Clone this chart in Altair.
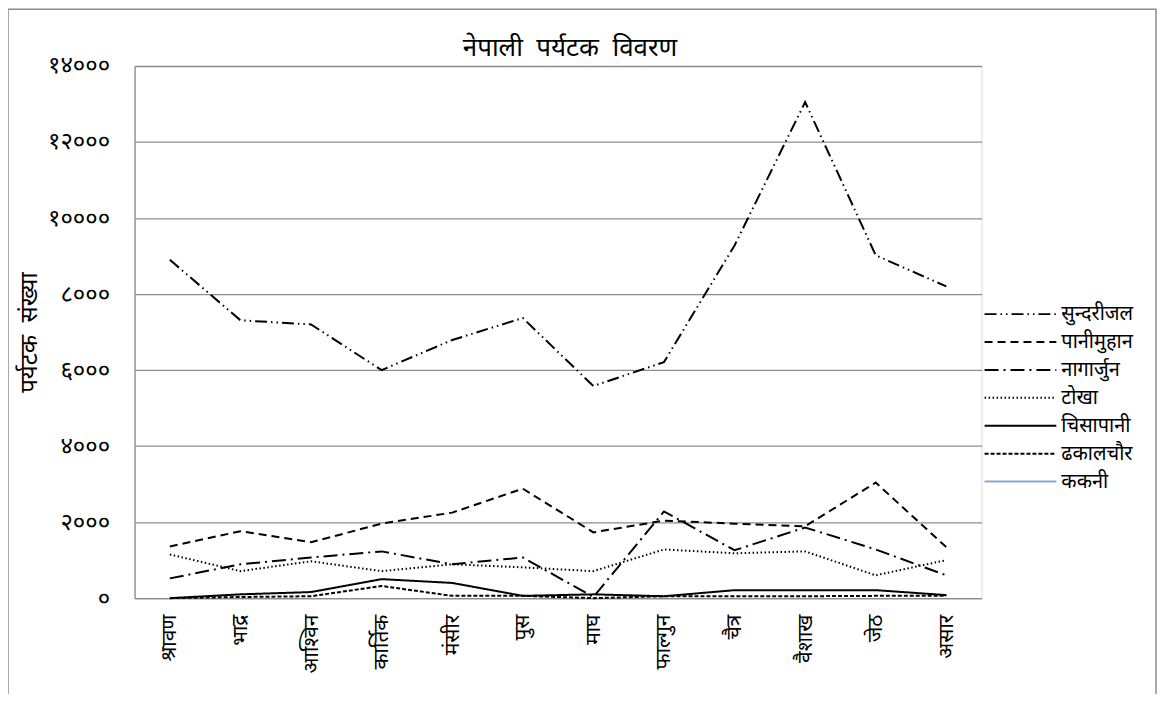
import altair as alt
import pandas as pd

months = ["श्रावण", "भाद्र", "आश्विन", "कार्तिक", "मंसीर", "पुस",
          "माघ", "फाल्गुन", "चैत्र", "वैशाख", "जेठ", "असार"]

series_names = ["सुन्दरीजल", "पानीमुहान", "नागार्जुन", "टोखा", "चिसापानी", "ढकालचौर", "ककनी"]

sundarijal = [8900, 7310, 7200, 6000, 6790, 7370, 5580, 6210, 9280, 13050, 9020, 8200]
panimuhan = [1360, 1760, 1470, 1960, 2250, 2880, 1730, 2040, 1960, 1890, 3040, 1340]
nagarjun = [520, 890, 1070, 1230, 890, 1070, 30, 2280, 1260, 1860, 1280, 600]
tokha = [1150, 710, 970, 710, 890, 810, 710, 1280, 1180, 1230, 600, 1000]
chisapani = [0, 100, 160, 500, 400, 60, 100, 50, 210, 210, 210, 80]
dhakalchaur = [0, 30, 50, 320, 60, 60, 0, 50, 50, 50, 60, 60]
kakani = [None] * 12

y_tick_values = [0, 2000, 4000, 6000, 8000, 10000, 12000, 14000]
y_tick_labels = ["०", "२०००", "४०००", "६०००", "८०००", "१००००", "१२०००", "१४०००"]

title_text = "नेपाली\u00a0\u00a0पर्यटक\u00a0\u00a0विवरण"
y_title = "पर्यटक\u00a0\u00a0संख्या"

all_series = [sundarijal, panimuhan, nagarjun, tokha, chisapani, dhakalchaur, kakani]
rows = []
for name, vals in zip(series_names, all_series):
    for m, v in zip(months, vals):
        rows.append({"month": m, "series": name, "value": v})
df = pd.DataFrame(rows)

dash_range = [[12, 4, 1.5, 4, 1.5, 4], [8, 5], [14, 5, 2, 5], [1.5, 2.5], [1, 0], [4, 2], [1, 0]]
color_range = ["#000000"] * 6 + ["#8EA9D0"]
width_range = [2, 2, 2, 2, 2.2, 2.4, 4.5]

label_expr = ""
for v, l in zip(y_tick_values, y_tick_labels):
    label_expr += f"datum.value == {v} ? '{l}' : "
label_expr += "datum.label"

FONT = "Noto Sans"

legend = alt.Legend(
    title=None, orient="none", legendX=897, legendY=239,
    symbolType="M-6,0H2", symbolSize=324,
    symbolStrokeWidth=alt.ExprRef(expr=f"datum.value == '{series_names[-1]}' ? 4.5 : 2.2"),
    labelFontSize=20, labelFont=FONT, labelColor="#000000",
    rowPadding=8, labelOffset=13, symbolOffset=0,
)

lines = alt.Chart(df).mark_line(clip=False).encode(
    x=alt.X("month:N", sort=months, title=None,
            scale=alt.Scale(type="point", padding=0.5),
            axis=alt.Axis(labelAngle=-90, labelFontSize=21, labelFont=FONT,
                          labelColor="#000000", labelPadding=16, ticks=False,
                          domainColor="#8c8c8c", domainWidth=1.3, grid=False)),
    y=alt.Y("value:Q", title=y_title,
            scale=alt.Scale(domain=[0, 14000], nice=False),
            axis=alt.Axis(values=y_tick_values, labelExpr=label_expr, ticks=False,
                          labelFontSize=24, labelFont=FONT, labelColor="#000000",
                          labelPadding=25, titleFontSize=24, titleFont=FONT,
                          titleFontWeight="normal", titleColor="#000000",
                          titlePadding=6, domainColor="#8c8c8c", domainWidth=1.3,
                          gridColor="#8c8c8c", gridWidth=1.3)),
    color=alt.Color("series:N", sort=series_names,
                    scale=alt.Scale(domain=series_names, range=color_range),
                    legend=legend),
    strokeDash=alt.StrokeDash("series:N", sort=series_names,
                              scale=alt.Scale(domain=series_names, range=dash_range),
                              legend=legend),
    strokeWidth=alt.StrokeWidth("series:N", sort=series_names,
                                scale=alt.Scale(domain=series_names, range=width_range),
                                legend=None),
    detail="series:N",
)

border = alt.Chart(pd.DataFrame({"k": [0]})).mark_rect(
    fill=None, stroke="#8c8c8c", strokeWidth=1.5, clip=False
).encode(
    x=alt.value(-127), x2=alt.value(1025), y=alt.value(-57), y2=alt.value(700)
)

title = alt.Chart(pd.DataFrame({"t": [title_text]})).mark_text(
    font=FONT, fontSize=26, color="#000000", align="center", baseline="alphabetic",
    clip=False
).encode(text="t:N", x=alt.value(437), y=alt.value(-10))

chart = alt.layer(border, lines, title).properties(
    width=850, height=534,
    autosize=alt.AutoSizeParams(type="none"),
    padding={"left": 127, "top": 57, "right": 176, "bottom": 95},
).configure_view(stroke=None).configure(background="#ffffff")

chart.save("out.html", embed_options={"renderer": "svg", "actions": False})
